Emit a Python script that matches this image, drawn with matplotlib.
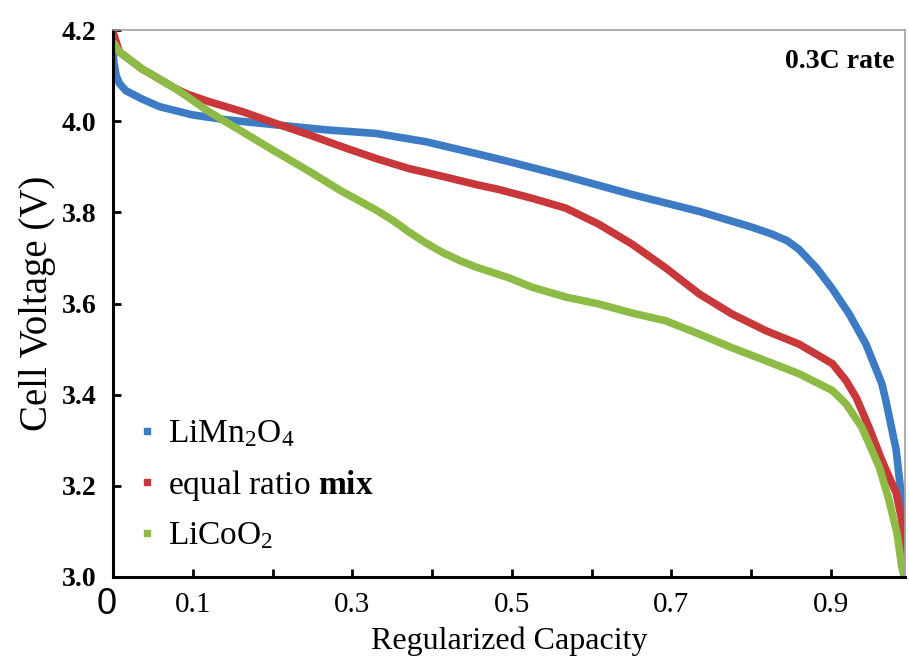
import matplotlib
matplotlib.use("Agg")
import matplotlib.pyplot as plt
from matplotlib.lines import Line2D
import matplotlib.transforms as mtransforms

plt.rcParams['font.family'] = ['Liberation Serif', 'DejaVu Serif']
plt.rcParams['mathtext.fontset'] = 'custom'
plt.rcParams['mathtext.rm'] = 'Liberation Serif'
plt.rcParams['mathtext.it'] = 'Liberation Serif:italic'
plt.rcParams['mathtext.bf'] = 'Liberation Serif:bold'

# ---- data ----
lmo_x = [0.000, 0.001, 0.004, 0.008, 0.016, 0.036, 0.058, 0.099, 0.142, 0.204,
         0.267, 0.330, 0.392, 0.455, 0.497, 0.568, 0.651, 0.735, 0.800, 0.825,
         0.845, 0.860, 0.882, 0.902, 0.923, 0.944, 0.964, 0.969, 0.982, 0.989,
         0.992, 0.993]
lmo_v = [4.160, 4.130, 4.100, 4.083, 4.067, 4.049, 4.032, 4.014, 4.003, 3.992,
         3.981, 3.973, 3.955, 3.929, 3.911, 3.879, 3.839, 3.802, 3.768, 3.753,
         3.738, 3.719, 3.678, 3.632, 3.577, 3.511, 3.424, 3.387, 3.278, 3.168,
         3.059, 3.015]

mix_x = [0.000, 0.008, 0.036, 0.079, 0.092, 0.120, 0.162, 0.204, 0.246, 0.287,
         0.330, 0.371, 0.413, 0.455, 0.484, 0.525, 0.568, 0.609, 0.651, 0.693,
         0.735, 0.776, 0.819, 0.860, 0.902, 0.919, 0.932, 0.948, 0.964, 0.982,
         0.989, 0.992, 0.993]
mix_v = [4.196, 4.152, 4.115, 4.071, 4.060, 4.043, 4.021, 3.995, 3.970, 3.944,
         3.918, 3.896, 3.879, 3.861, 3.850, 3.831, 3.809, 3.774, 3.730, 3.678,
         3.621, 3.577, 3.540, 3.511, 3.468, 3.431, 3.393, 3.328, 3.256, 3.184,
         3.125, 3.052, 3.004]

lco_x = [0.000, 0.008, 0.036, 0.079, 0.120, 0.162, 0.204, 0.246, 0.287, 0.330,
         0.352, 0.371, 0.392, 0.413, 0.435, 0.455, 0.497, 0.525, 0.568, 0.609,
         0.651, 0.693, 0.735, 0.776, 0.819, 0.860, 0.902, 0.919, 0.939, 0.961,
         0.973, 0.983, 0.989, 0.993]
lco_v = [4.174, 4.152, 4.115, 4.071, 4.021, 3.977, 3.933, 3.890, 3.846, 3.805,
         3.781, 3.757, 3.733, 3.712, 3.694, 3.680, 3.656, 3.636, 3.614, 3.599,
         3.579, 3.562, 3.533, 3.503, 3.474, 3.446, 3.409, 3.380, 3.328, 3.240,
         3.168, 3.096, 3.022, 2.995]

series_labels = [r'LiMn$_2$O$_4$', r'equal ratio $\mathbf{mix}$', r'LiCoO$_2$']
series_colors = ['#3d7cc4', '#c8383a', '#8dbb46']

x_ticks = [0.1, 0.2, 0.3, 0.4, 0.5, 0.6, 0.7, 0.8, 0.9]
x_tick_labels = ['0.1', '', '0.3', '', '0.5', '', '0.7', '', '0.9']
y_ticks = [3.0, 3.2, 3.4, 3.6, 3.8, 4.0, 4.2]
y_tick_labels = ['3.0', '3.2', '3.4', '3.6', '3.8', '4.0', '4.2']

# ---- figure ----
fig = plt.figure(figsize=(9.09, 6.71), dpi=100)
ax = fig.add_axes([113/909, 94/671, 792/909, 547/671])

for xs, vs, c in zip([lmo_x, mix_x, lco_x], [lmo_v, mix_v, lco_v], series_colors):
    ax.plot(xs, vs, color=c, lw=5.5, solid_capstyle='butt', solid_joinstyle='round')

ax.set_xlim(0, 0.993)
ax.set_ylim(3.0, 4.2)

ax.set_xticks(x_ticks)
ax.set_xticklabels(x_tick_labels, fontsize=21)
ax.set_yticks(y_ticks)
ax.set_yticklabels(y_tick_labels, fontsize=20, fontweight='bold')
ax.tick_params(axis='x', direction='in', length=6, width=2, pad=11)
ax.tick_params(axis='y', direction='in', length=6, width=2, pad=12)

for s in ['left', 'bottom']:
    ax.spines[s].set_linewidth(2.2)
    ax.spines[s].set_color('black')
for s in ['top', 'right']:
    ax.spines[s].set_linewidth(1.2)
    ax.spines[s].set_color('#a0a0a0')

ax.set_xlabel('Regularized Capacity', fontsize=23, labelpad=6)
ax.set_ylabel('Cell Voltage (V)', fontsize=28, labelpad=4)

# "0" origin label
trans = mtransforms.blended_transform_factory(ax.transData, ax.transAxes)
ax.text(-0.008, -0.05, '0', transform=trans, ha='center', va='center',
        fontsize=26, family=['Liberation Sans Narrow', 'Liberation Sans', 'DejaVu Sans'])

ax.text(0.987, 0.942, '0.3C rate', transform=ax.transAxes, ha='right', va='center',
        fontsize=20, fontweight='bold')

handles = [Line2D([], [], ls='none', marker='s', markersize=4, color=c) for c in series_colors]
ax.legend(handles, series_labels, loc='upper left', bbox_to_anchor=(0.03, 0.29),
          frameon=False, fontsize=24, handlelength=0.6, handletextpad=0.35,
          labelspacing=0.55, borderpad=0, borderaxespad=0)

fig.savefig('out.png', dpi=100)
